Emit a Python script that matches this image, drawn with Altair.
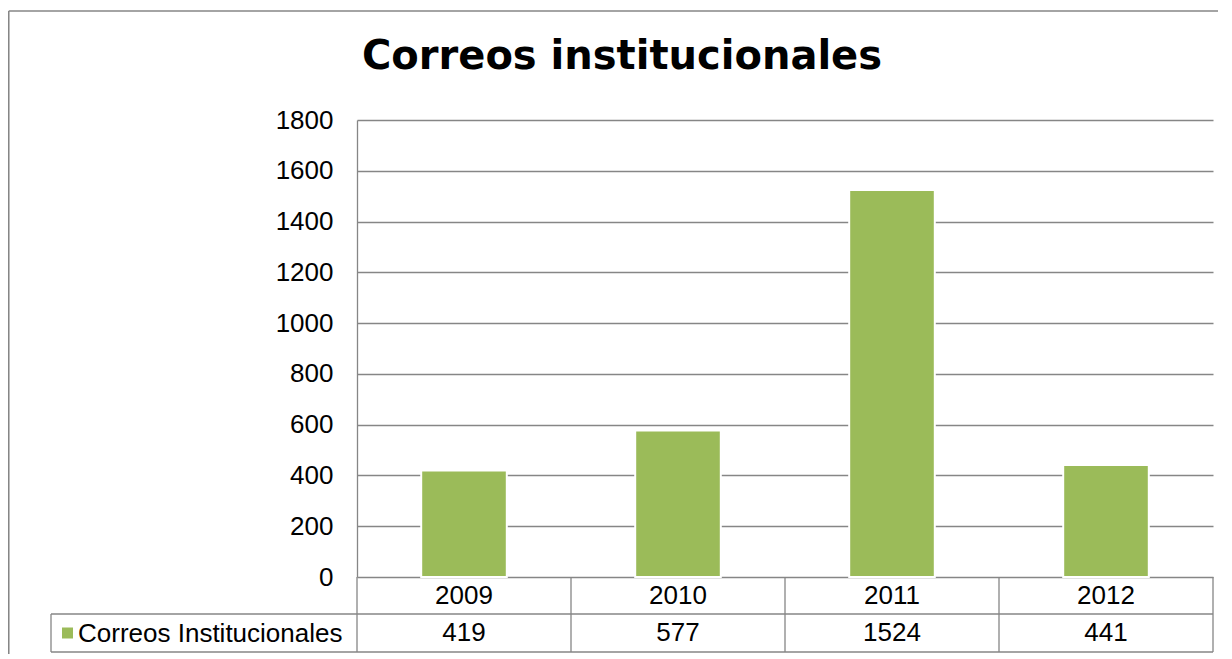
import altair as alt
import pandas as pd

# ---- data ----
years = ["2009", "2010", "2011", "2012"]
values = [419, 577, 1524, 441]
series_name = "Correos Institucionales"
title_text = "Correos institucionales"
y_ticks = [0, 200, 400, 600, 800, 1000, 1200, 1400, 1600, 1800]

# ---- layout (pixels) ----
W, H = 856, 457
PAD_L, PAD_T, PAD_R, PAD_B = 349, 112, 5, 77
ROW1_Y, ROW2_Y = 494, 532          # bottom lines of the two table rows
TABLE_LEFT = -306                  # left edge of the label cell
GRAY = "#868686"
GREEN = "#9BBB59"
FONT = "Liberation Sans"

df = pd.DataFrame({"year": years, "value": values,
                   "label": [str(v) for v in values]})
one = pd.DataFrame({"k": [0]})

xscale = alt.Scale(domain=years, paddingInner=0.6, paddingOuter=0.3)
base = alt.Chart(df)

bars = base.mark_bar(color=GREEN, stroke="white", strokeWidth=2).encode(
    x=alt.X("year:N", scale=xscale, axis=None, sort=years),
    y=alt.Y("value:Q", scale=alt.Scale(domain=[0, 1800], nice=False),
            axis=alt.Axis(values=y_ticks, format="d", title=None, grid=True, gridColor=GRAY,
                          gridWidth=1.3, domainColor=GRAY, domainWidth=1.3,
                          ticks=False, labelFont=FONT, labelFontSize=26,
                          labelColor="black", labelPadding=24)),
)

year_text = base.mark_text(font=FONT, fontSize=26, color="black", baseline="middle").encode(
    x=alt.X("year:N", scale=xscale, axis=None, sort=years),
    y=alt.value((H + ROW1_Y) / 2),
    text="year:N",
)
value_text = base.mark_text(font=FONT, fontSize=26, color="black", baseline="middle").encode(
    x=alt.X("year:N", scale=xscale, axis=None, sort=years),
    y=alt.value((ROW1_Y + ROW2_Y) / 2),
    text="label:N",
)


def hline(x1, x2, y, w=1.3):
    return alt.Chart(one).mark_rule(color=GRAY, strokeWidth=w).encode(
        x=alt.value(x1), x2=alt.value(x2), y=alt.value(y))


def vline(x, y1, y2, w=1.3):
    return alt.Chart(one).mark_rule(color=GRAY, strokeWidth=w).encode(
        x=alt.value(x), y=alt.value(y1), y2=alt.value(y2))


lines = [hline(TABLE_LEFT, W, ROW1_Y), hline(TABLE_LEFT, W, ROW2_Y),
         vline(TABLE_LEFT, ROW1_Y, ROW2_Y)]
for i in range(len(years) + 1):
    lines.append(vline(i * W / len(years), H, ROW2_Y))

# outer chart border
lines.append(hline(-PAD_L + 0.75, W + PAD_R, -PAD_T + 3, 1.6))
lines.append(vline(-PAD_L + 0.75, -PAD_T + 3, H + PAD_B, 1.6))

legend_sq = alt.Chart(one).mark_square(size=121, color=GREEN, opacity=1).encode(
    x=alt.value(-289.5), y=alt.value((ROW1_Y + ROW2_Y) / 2))
legend_txt = alt.Chart(one).mark_text(font=FONT, fontSize=26, color="black",
                                      align="left", baseline="middle").encode(
    x=alt.value(-279), y=alt.value((ROW1_Y + ROW2_Y) / 2 + 1), text=alt.value(series_name))

title = alt.Chart(one).mark_text(font="DejaVu Sans", fontSize=40, fontWeight="bold",
                                 color="black", align="center", baseline="alphabetic").encode(
    x=alt.value(265), y=alt.value(-51), text=alt.value(title_text))

chart = alt.layer(bars, *lines, year_text, value_text, legend_sq, legend_txt, title).properties(
    width=W, height=H,
    autosize=alt.AutoSizeParams(type="none"),
    padding={"left": PAD_L, "top": PAD_T, "right": PAD_R, "bottom": PAD_B},
).configure_view(stroke=None)

chart.save("out.html", embed_options={"renderer": "svg", "actions": False})
